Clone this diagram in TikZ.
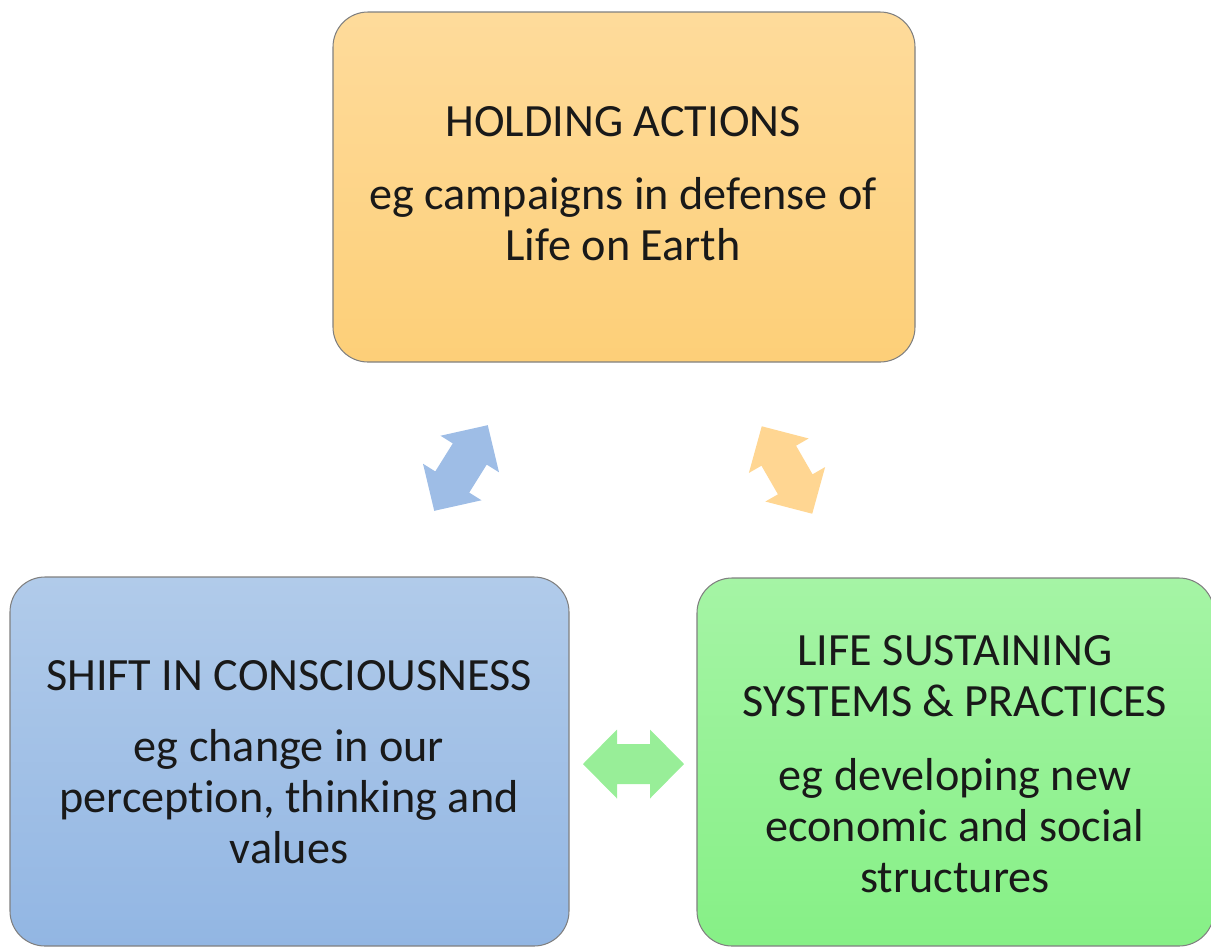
\documentclass[tikz,border=0pt]{standalone}
\usepackage{fontspec}
\setmainfont[Ligatures=CommonOff]{Carlito}
\begin{document}
\begin{tikzpicture}[x=0.02cm,y=-0.02cm,
  box/.style={draw=black!50,line width=0.6pt,rounded corners=0.7cm},
  txt/.style={align=center,inner sep=0pt,font=\fontsize{26.3}{29}\selectfont,text=black!90}]
\useasboundingbox (0,0) rectangle (1211,948);
\definecolor{otop}{HTML}{FEDB9B}\definecolor{obot}{HTML}{FDCF78}
\definecolor{btop}{HTML}{B1CBEA}\definecolor{bbot}{HTML}{92B6E3}
\definecolor{gtop}{HTML}{A5F4A5}\definecolor{gbot}{HTML}{86F086}
\definecolor{barr}{HTML}{9EBDE6}\definecolor{oarr}{HTML}{FFD692}\definecolor{garr}{HTML}{98EE98}
% boxes
\path[box,top color=otop,bottom color=obot] (333,12) rectangle (915,362);
\coordinate (top) at (624,187);
\path[box,top color=btop,bottom color=bbot] (10,577) rectangle (569,946);
\coordinate (left) at (290,761);
\path[box,top color=gtop,bottom color=gbot] (697,578) rectangle (1214,946);
\coordinate (right) at (955,762);
% texts
\node[txt] (t1) at (623,122) {HOLDING ACTIONS};
\node[txt] (b1) at (623,219) {eg campaigns in defense of\\Life on Earth};
\node[txt] (t2) at (289,676) {SHIFT IN CONSCIOUSNESS};
\node[txt] (b2) at (289,797) {eg change in our\\perception, thinking and\\values};
\node[txt] (t3) at (955,676) {LIFE SUSTAINING\\SYSTEMS \& PRACTICES};
\node[txt] (b3) at (955,826) {eg developing new\\economic and social\\structures};
% double arrows
\def\darrow#1#2#3{%
  \fill[#3] [shift={#1},rotate=#2]
   (50.5,0) -- (16.5,34.5) -- (16.5,20) -- (-16.5,20) -- (-16.5,34.5) -- (-50.5,0)
   -- (-16.5,-34.5) -- (-16.5,-20) -- (16.5,-20) -- (16.5,-34.5) -- cycle;}
\coordinate (ab) at (461,468);
\coordinate (ao) at (787,470);
\coordinate (ag) at (633.5,764);
\darrow{(ab)}{58}{barr}
\darrow{(ao)}{-60}{oarr}
\darrow{(ag)}{0}{garr}
\end{tikzpicture}
\end{document}
